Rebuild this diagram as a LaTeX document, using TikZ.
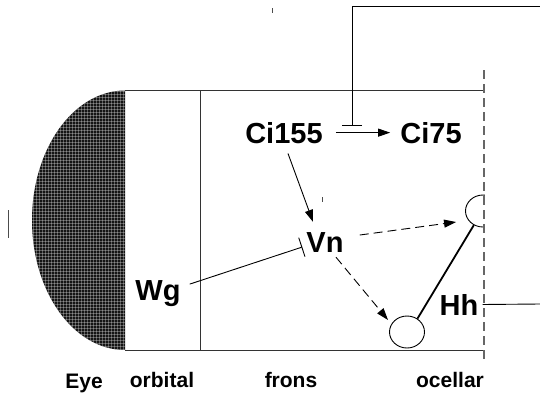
\documentclass[tikz,border=0pt]{standalone}
\usepackage{fontspec}
\setmainfont{Liberation Sans}
\usetikzlibrary{arrows.meta,shapes.geometric,patterns}
\begin{document}
\begin{tikzpicture}[x=1pt,y=-1pt,
  lbl/.style={inner sep=0pt, anchor=base, font=\fontsize{29}{30}\selectfont\bfseries},
  reg/.style={inner sep=0pt, anchor=base, font=\fontsize{21}{22}\selectfont\bfseries},
  frame/.style={draw=black!80, line width=1pt},
  conn/.style={draw=black, line width=0.9pt},
  act/.style={conn, -{Triangle[length=12pt,width=8pt]}},
  dact/.style={act, dash pattern=on 9pt off 5pt},
  inh/.style={conn, -{Bar[width=20pt,line width=0.9pt]}},
  cell/.style={draw=black, line width=0.9pt, ellipse, inner sep=0pt, minimum width=35pt, minimum height=32pt},
  tick/.style={draw=black!70, line width=0.8pt},
]
\useasboundingbox (0,0) rectangle (540,394);
% eye
\fill[black!92] (125,90.5) arc[start angle=90, end angle=270, x radius=93pt, y radius=129.75pt] -- cycle;
\fill[pattern=grid, pattern color=white, opacity=0.3] (125,90.5) arc[start angle=90, end angle=270, x radius=93pt, y radius=129.75pt] -- cycle;
% frame
\draw[frame] (125,90.5) -- (484,90.5);
\draw[frame] (125,350) -- (484,350);
\draw[frame] (200,90.5) -- (200,350);
% nodes
\node[lbl] (ci155) at (284,143) {Ci155};
\node[lbl] (ci75) at (431,143) {Ci75};
\node[lbl] (vn) at (325,252) {Vn};
\node[lbl] (wg) at (158,300) {Wg};
\node[lbl] (hh) at (459,315) {Hh};
\node[cell] (c1) at (483,211) {};
\node[cell] (c2) at (407,332) {};
\fill[white] (484.8,190) rectangle (505,232);
% dashed ocellar boundary
\draw[draw=black!60, line width=1.5pt, dash pattern=on 9pt off 5pt] (484,70) -- (484,360);
% region labels
\node[reg] (eye) at (84,388) {Eye};
\node[reg] (orb) at (162,387) {orbital};
\node[reg] (fro) at (291,387) {frons};
\node[reg] (oce) at (450,387) {ocellar};
% connectors
\draw[act] ([xshift=13pt]ci155.east) -- ([xshift=-10pt]ci75.west);
\coordinate (ci) at (352,126);
\coordinate (topend) at (540,6);
\draw[inh] (topend) -| (ci);
\draw[act] ([shift={(4,10)}]ci155.south) -- ([shift={(-12,-10)}]vn.north);
\draw[inh] ([shift={(9,-9)}]wg.east) -- ([shift={(-4,5)}]vn.west);
\draw[dact] ([shift={(16,-7)}]vn.east) -- ([shift={(-9,11)}]c1.west);
\draw[dact] ([shift={(11,5)}]vn.south) -- ([shift={(-19,-12)}]c2.center);
\draw[line width=1.8pt] (c2.52) -- (c1.237);
\coordinate (hhend) at (540,304);
\draw[conn] ([xshift=4pt]hh.east) -- (hhend);
% small marks
\draw[tick] (272,8) -- (272,13);
\draw[tick] (322,197) -- (322,202);
\draw[tick] (8,210) -- (8,238);
\end{tikzpicture}
\end{document}
